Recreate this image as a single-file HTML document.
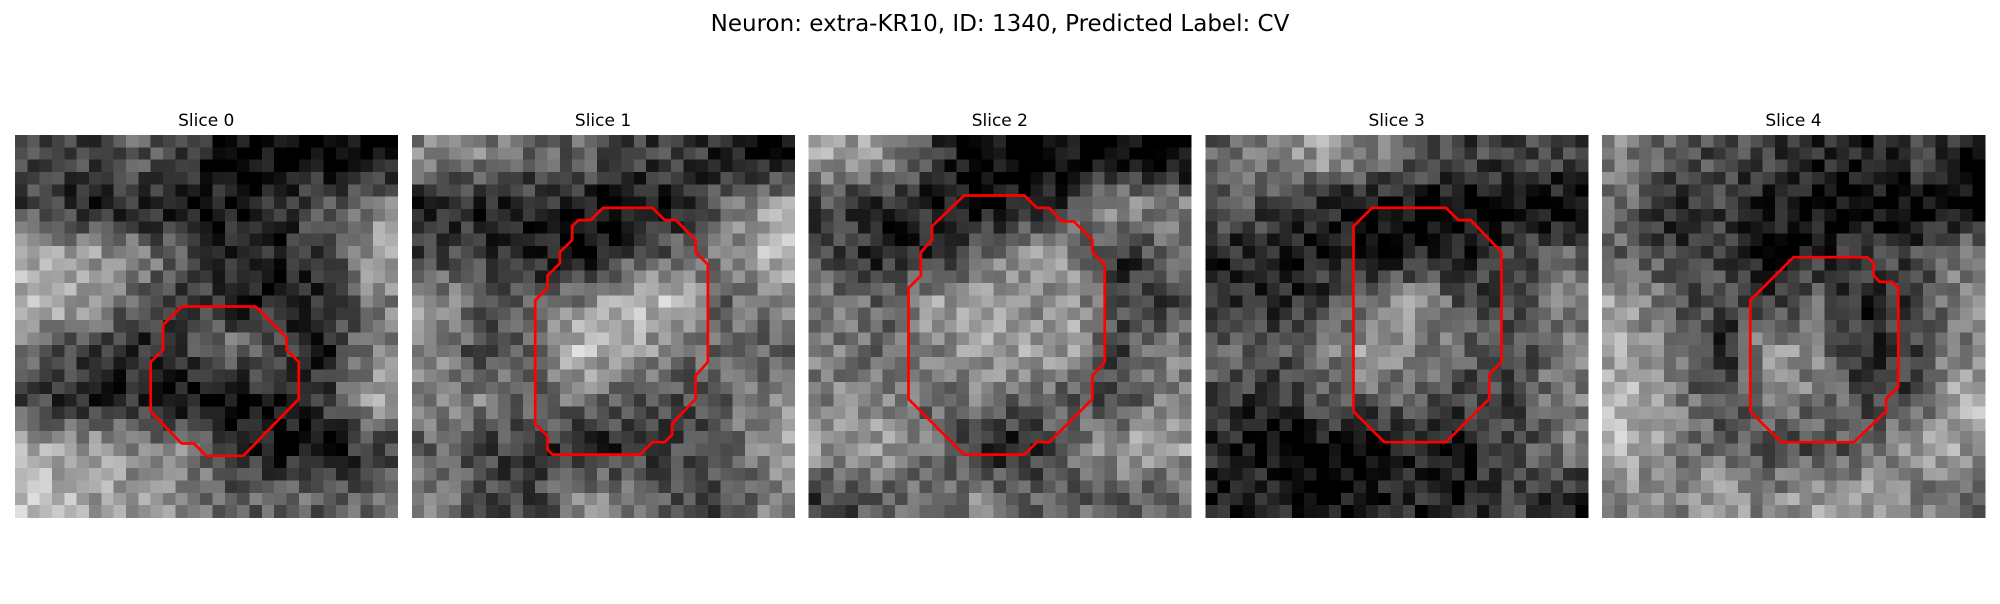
<!DOCTYPE html>
<html><head><meta charset="utf-8">
<style>
body{margin:0;background:#fff;width:2000px;height:600px;overflow:hidden;font-family:"DejaVu Sans","Liberation Sans",sans-serif;}
</style></head>
<body>
<svg id="fig" width="2000" height="600" xmlns="http://www.w3.org/2000/svg">
<text x="1000" y="31" text-anchor="middle" font-size="23" font-family="DejaVu Sans, Liberation Sans, sans-serif" fill="#000">Neuron: extra-KR10, ID: 1340, Predicted Label: CV</text>
</svg>
<script>
// Slice titles
const sliceTitles = ["Slice 0","Slice 1","Slice 2","Slice 3","Slice 4"];
// Coarse brightness maps (0-9), 8x8 per slice
const coarse0 = [[3,3,4,3,1,1,1,1],[3,2,2,1,2,2,4,5],[6,6,5,4,2,2,3,6],[7,6,4,3,2,2,2,5],[4,3,2,3,5,3,2,5],[3,2,2,1,1,2,3,6],[6,6,5,5,3,1,1,3],[7,6,6,5,4,4,4,4]];
const coarse1 = [[5,5,4,4,3,3,2,1],[2,2,2,2,1,2,4,6],[3,3,2,1,3,4,5,7],[6,4,4,5,7,7,4,5],[5,3,4,7,6,5,4,4],[5,5,4,5,4,3,4,5],[4,3,3,2,2,3,4,6],[5,3,3,5,5,3,3,5]];
const coarse2 = [[6,6,3,1,1,1,1,1],[3,2,2,1,2,3,6,5],[3,2,2,4,6,5,2,4],[5,4,6,6,5,6,3,3],[5,4,5,6,6,6,3,5],[5,5,4,5,4,4,3,5],[6,6,5,2,2,4,6,6],[3,4,4,5,4,4,4,4]];
const coarse3 = [[4,5,6,5,4,3,3,3],[4,3,2,1,1,1,1,1],[2,2,2,1,2,2,3,4],[3,2,3,5,6,3,3,5],[4,3,5,6,5,4,3,5],[3,2,4,4,4,3,3,5],[2,1,1,1,2,2,3,5],[2,2,1,2,2,2,3,2]];
const coarse4 = [[5,4,3,3,2,2,3,2],[4,2,3,2,1,1,1,1],[4,3,3,1,2,3,3,5],[6,4,3,3,4,2,3,5],[6,5,2,6,5,2,3,5],[7,5,3,5,5,3,3,7],[7,5,4,3,3,4,6,6],[5,5,6,5,6,6,5,4]];
// Contours in pixel-cell units (31x31 grid)
const contour0 = [[13.5,13.9],[19.5,13.9],[22,16.4],[22,17.4],[23,18.4],[23,21.4],[18.5,26],[15.5,26],[14.5,25],[13.5,25],[11,22.4],[11,18.4],[12,17.4],[12,15.4]];
const contour1 = [[15.5,5.9],[19.5,5.9],[20.5,6.9],[21.4,6.9],[23,8.5],[23,9.5],[24,10.5],[24,18.4],[23,19.5],[23,21.4],[21.1,23.4],[21.1,24.3],[20.5,24.9],[19.5,24.9],[18.5,25.9],[11.4,25.9],[11,25.5],[11,24.4],[10,23.4],[10,13.4],[11,12.4],[11,11.4],[12,10.4],[12,9.5],[13,8.5],[13,7.4],[13.5,6.9],[14.5,6.9]];
const contour2 = [[12.6,4.9],[17.5,4.9],[18.5,5.9],[19.5,5.9],[20.5,7],[21.5,7],[23,8.5],[23,9.5],[24,10.5],[24,18.4],[23,19.5],[23,21.4],[19.5,24.9],[18.5,24.9],[17.5,25.9],[12.6,25.9],[8.1,21.4],[8.1,12.4],[9.1,11.4],[9.1,9.5],[10,8.5],[10,7.4]];
const contour3 = [[13.5,5.9],[19.5,5.9],[20.5,6.9],[21.5,6.9],[24,9.5],[24,18.4],[23,19.4],[23,21.4],[19.5,24.9],[14.5,24.9],[12,22.4],[12,7.4]];
const contour4 = [[15.5,9.9],[21.5,9.9],[22,10.4],[22,11.4],[22.5,11.9],[23.5,11.9],[24,12.4],[24,20.4],[23,21.4],[23,22.4],[20.4,24.9],[14.5,24.9],[12,22.4],[12,13.4]];

const coarseMaps=[coarse0,coarse1,coarse2,coarse3,coarse4];
const contours=[contour0,contour1,contour2,contour3,contour4];
const NS="http://www.w3.org/2000/svg";
const svg=document.getElementById('fig');
const N=31, left0=15, step=396.8, topY=135, size=382.5, cell=size/N;
function hash(a,b,c){let h=(a*374761393+b*668265263+c*2147483647)>>>0;h=((h^(h>>>13))*1274126177)>>>0;return ((h^(h>>>16))>>>0)/4294967295;}
function sample(m,cx,cy){
  const gx=Math.min(Math.max(cx/N*8-0.5,0),7), gy=Math.min(Math.max(cy/N*8-0.5,0),7);
  const x0=Math.floor(gx),y0=Math.floor(gy),x1=Math.min(x0+1,7),y1=Math.min(y0+1,7);
  const fx=gx-x0,fy=gy-y0;
  return (m[y0][x0]*(1-fx)+m[y0][x1]*fx)*(1-fy)+(m[y1][x0]*(1-fx)+m[y1][x1]*fx)*fy;
}
for(let p=0;p<5;p++){
  const ox=left0+p*step;
  const t=document.createElementNS(NS,'text');
  
  
  t.setAttribute('x',ox+size/2);t.setAttribute('y',126);t.setAttribute('text-anchor','middle');
  t.setAttribute('font-size','17');t.setAttribute('font-family','DejaVu Sans, Liberation Sans, sans-serif');
  t.textContent=sliceTitles[p];svg.appendChild(t);
  const g=document.createElementNS(NS,'g');
  
  
  g.setAttribute('shape-rendering','crispEdges');
  for(let r=0;r<N;r++)for(let c=0;c<N;c++){
    let v=sample(coarseMaps[p],c+0.5,r+0.5)/9*285-30+(hash(p+1,r,c)-0.5)*80;
    v=Math.round(Math.max(0,Math.min(255,v)));
    const rc=document.createElementNS(NS,'rect');
    rc.setAttribute('x',(ox+c*cell).toFixed(2));rc.setAttribute('y',(topY+r*cell).toFixed(2));
    rc.setAttribute('width',(cell+0.6).toFixed(2));rc.setAttribute('height',(cell+0.6).toFixed(2));
    rc.setAttribute('fill',`rgb(${v},${v},${v})`);
    g.appendChild(rc);
  }
  svg.appendChild(g);
  const pl=document.createElementNS(NS,'polygon');
  
  
  pl.setAttribute('points',contours[p].map(q=>(ox+q[0]*cell).toFixed(1)+','+(topY+q[1]*cell).toFixed(1)).join(' '));
  pl.setAttribute('fill','none');pl.setAttribute('stroke','#ff0000');pl.setAttribute('stroke-width','2.7');
  pl.setAttribute('stroke-linejoin','round');
  svg.appendChild(pl);
}
</script>
</body></html>
